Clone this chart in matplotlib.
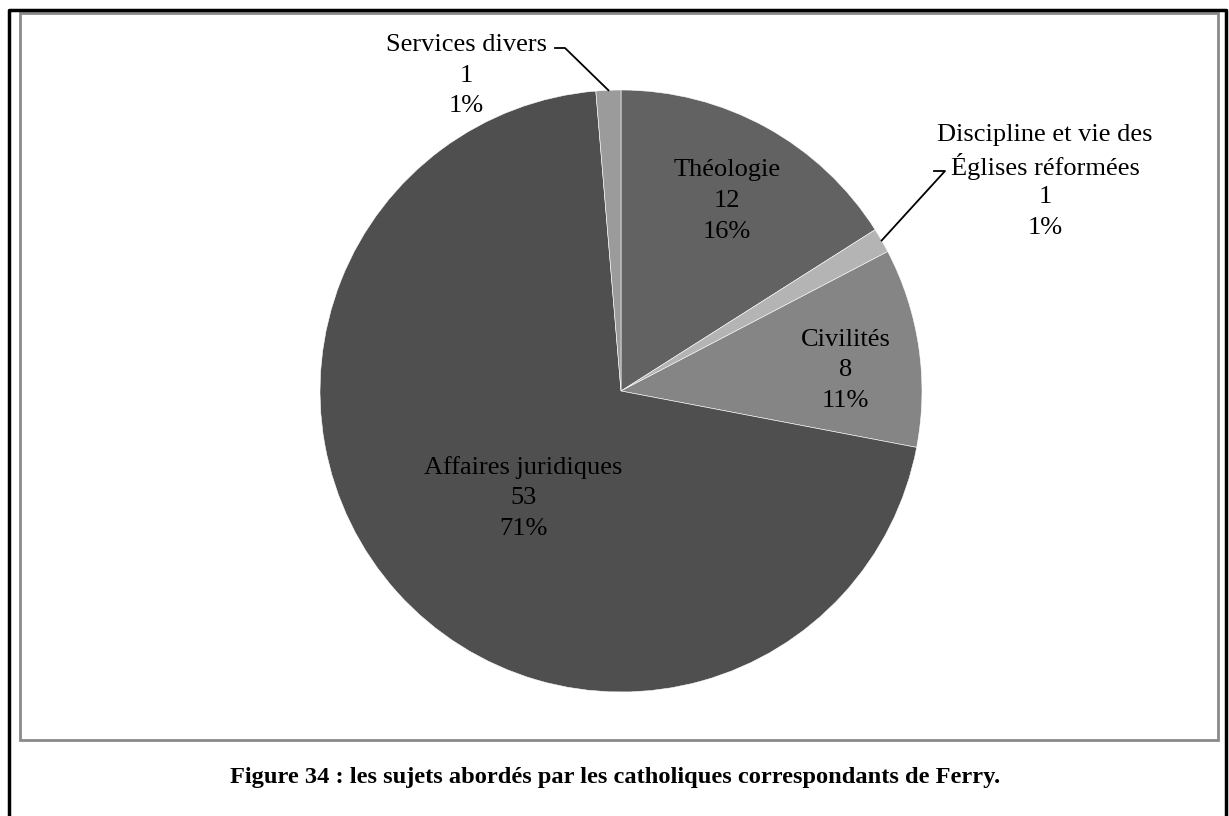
import numpy as np
import matplotlib
matplotlib.use("Agg")
import matplotlib.pyplot as plt
from matplotlib.lines import Line2D
from matplotlib.patches import Rectangle

plt.rcParams['font.family'] = ['Liberation Serif', 'DejaVu Serif']

# data, clockwise from the top
labels = ["Théologie", "Discipline et vie des\nÉglises réformées", "Civilités",
          "Affaires juridiques", "Services divers"]
counts = [12, 1, 8, 53, 1]
percents = ["16%", "1%", "11%", "71%", "1%"]
colors = ["#626262", "#b4b4b4", "#858585", "#4f4f4f", "#9b9b9b"]

W, H = 1229, 816
fig = plt.figure(figsize=(W / 100, H / 100), dpi=100)
ax = fig.add_axes([0, 0, 1, 1])

cx, cy, R = 621, H - 391, 301
wedges, _ = ax.pie(counts, colors=colors, startangle=90, counterclock=False,
                   center=(cx, cy), radius=R,
                   wedgeprops=dict(edgecolor="white", linewidth=0.4))
ax.set_xlim(0, W)
ax.set_ylim(0, H)
ax.set_aspect("equal")
ax.axis("off")

FS = 19
STEP = 30.7  # pixels between label lines

def mid_angle(w):
    return np.deg2rad((w.theta1 + w.theta2) / 2)

def put_label(x, y, i):
    # one text per line so the spacing stays even (accents mess up linespacing)
    lines = labels[i].split("\n") + [str(counts[i]), percents[i]]
    n = len(lines)
    for k, s in enumerate(lines):
        ax.text(x, y + ((n - 1) / 2 - k) * STEP, s, ha="center", va="center_baseline",
                fontsize=FS)

# labels inside the big slices: (radius fraction, angle shift in degrees)
inside = {0: (0.73, 0.0), 2: (0.75, -2.5), 3: (0.475, 5.0)}
for i, (frac, shift) in inside.items():
    a = mid_angle(wedges[i]) + np.deg2rad(shift)
    put_label(cx + frac * R * np.cos(a), cy + frac * R * np.sin(a), i)

# outside labels with leader lines
outside = {1: ((1045, H - 179), (945, H - 171), (934, H - 171)),
           4: ((466, H - 73), (565, H - 48), (555, H - 48))}
for i, (tpos, knee, end) in outside.items():
    put_label(tpos[0], tpos[1], i)
    a = mid_angle(wedges[i])
    px, py = cx + R * np.cos(a), cy + R * np.sin(a)
    ax.plot([px, knee[0], end[0]], [py, knee[1], end[1]], color="black", lw=1.3)

# frames
fig.add_artist(Rectangle((20 / W, 1 - 740 / H), 1198 / W, 727 / H,
                         transform=fig.transFigure, fill=False,
                         edgecolor="#8a8a8a", lw=2))
fig.add_artist(Line2D([9 / W, 9 / W, 1226 / W, 1226 / W], [0, 1 - 10 / H, 1 - 10 / H, 0],
                      transform=fig.transFigure, color="black", lw=2.5))

fig.text(615 / W, 1 - 778 / H,
         "Figure 34 : les sujets abordés par les catholiques correspondants de Ferry.",
         ha="center", va="center", fontsize=17.6, fontweight="bold")

fig.savefig("out.png", dpi=100)
